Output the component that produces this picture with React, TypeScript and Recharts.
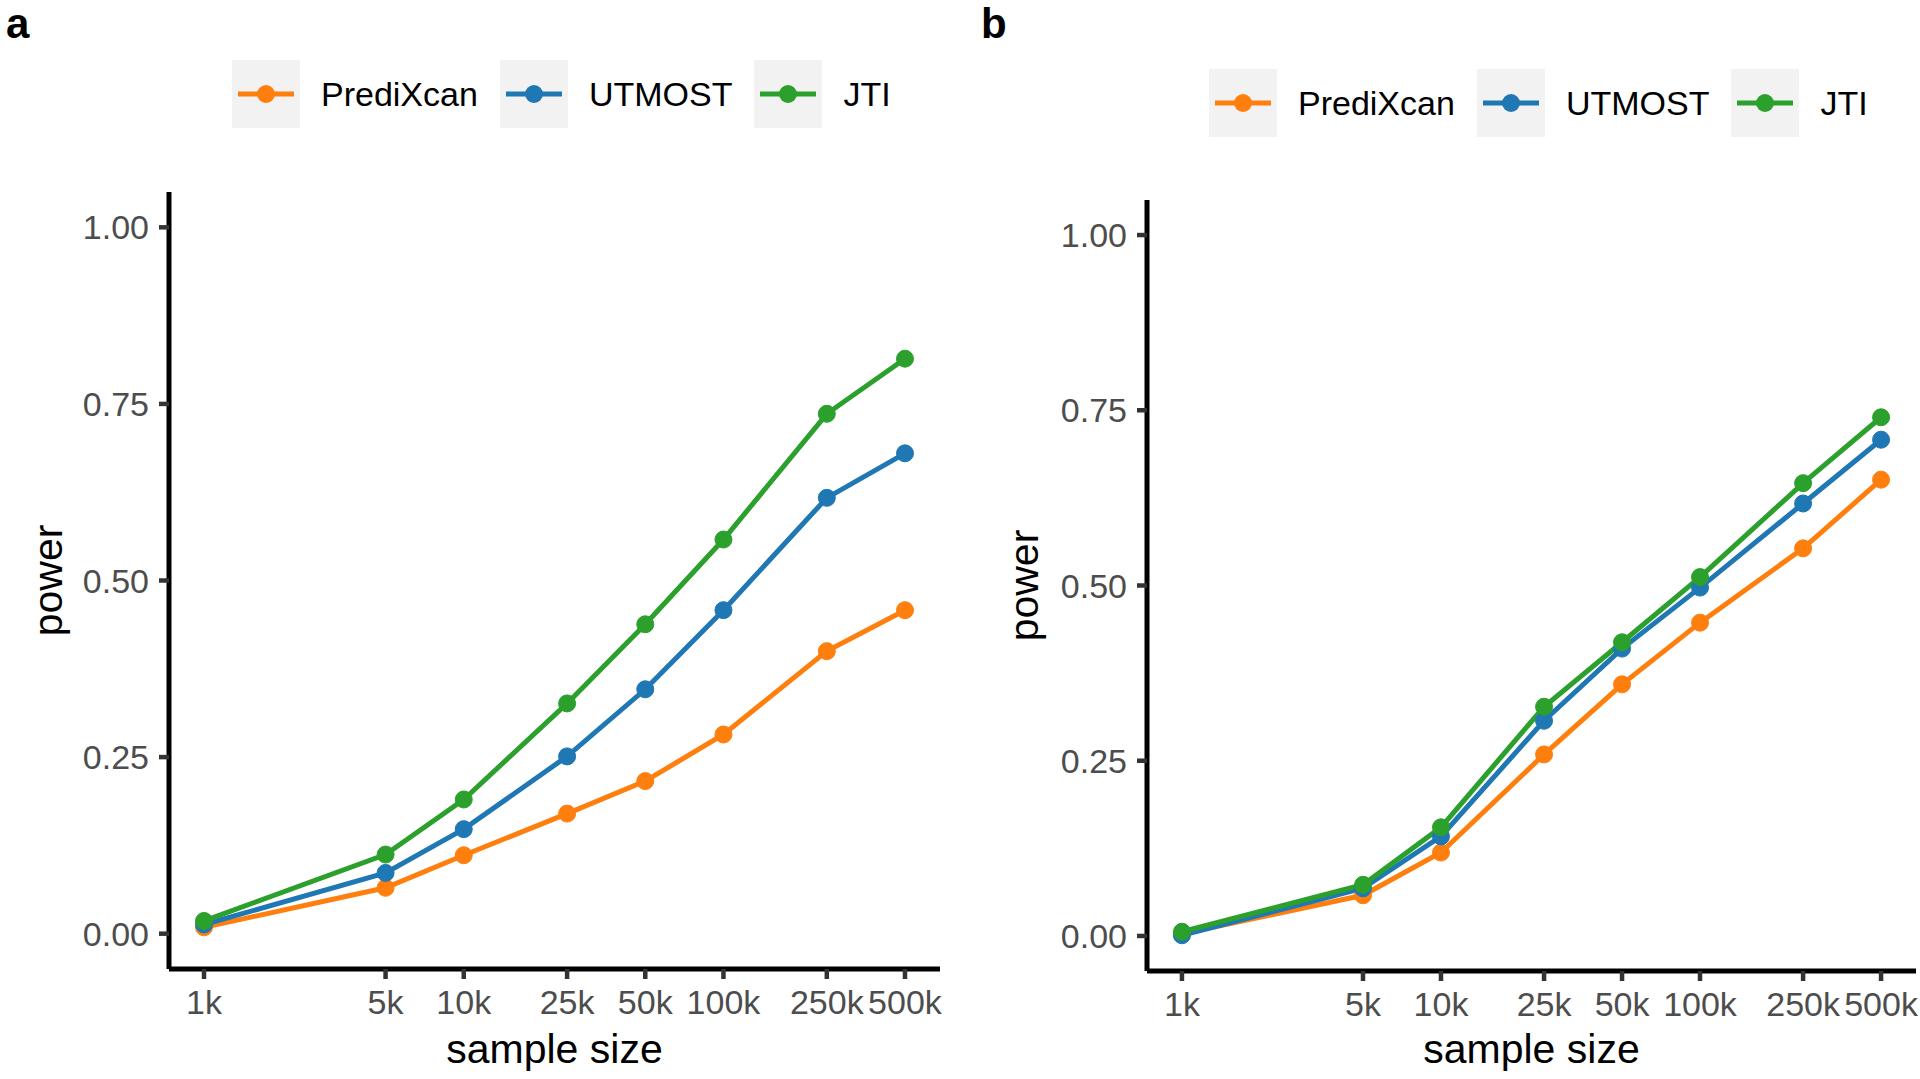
import { LineChart, Line, XAxis, YAxis } from "recharts";

const sampleSizes = [1000, 5000, 10000, 25000, 50000, 100000, 250000, 500000];
const sizeLabels = ["1k", "5k", "10k", "25k", "50k", "100k", "250k", "500k"];
const powerTicks = [0, 0.25, 0.5, 0.75, 1];

const methods = ["PrediXcan", "UTMOST", "JTI"];
const methodColors = ["#FF7F0E", "#1F77B4", "#2CA02C"];

// panel a
const predixcanA = [0.009, 0.065, 0.111, 0.17, 0.216, 0.282, 0.4, 0.458];
const utmostA = [0.013, 0.086, 0.148, 0.251, 0.346, 0.458, 0.617, 0.68];
const jtiA = [0.018, 0.112, 0.19, 0.326, 0.438, 0.558, 0.736, 0.814];

// panel b
const predixcanB = [0.003, 0.058, 0.119, 0.259, 0.359, 0.447, 0.553, 0.651];
const utmostB = [0.001, 0.068, 0.142, 0.307, 0.41, 0.497, 0.617, 0.708];
const jtiB = [0.006, 0.073, 0.155, 0.327, 0.419, 0.512, 0.646, 0.74];

const FONT = "'Liberation Sans', Arial, Helvetica, sans-serif";

function buildRows(a: number[], b: number[], c: number[]) {
  return sampleSizes.map((n, i) => ({ n, PrediXcan: a[i], UTMOST: b[i], JTI: c[i] }));
}

function LegendRow({ left, top }: { left: number; top: number }) {
  return (
    <div
      style={{
        position: "absolute",
        left,
        top,
        display: "flex",
        alignItems: "center",
        fontFamily: FONT,
        fontSize: 34,
        color: "#000",
      }}
    >
      {methods.map((m, i) => (
        <div key={m} style={{ display: "flex", alignItems: "center", marginRight: 22 }}>
          <svg width={68} height={68} style={{ display: "block" }}>
            <rect x={0} y={0} width={68} height={68} fill="#F2F2F2" />
            <line x1={6} x2={62} y1={34} y2={34} stroke={methodColors[i]} strokeWidth={5} />
            <circle cx={34} cy={34} r={9} fill={methodColors[i]} />
          </svg>
          <span style={{ marginLeft: 21, whiteSpace: "nowrap" }}>{m}</span>
        </div>
      ))}
    </div>
  );
}

interface PanelProps {
  rows: { n: number; PrediXcan: number; UTMOST: number; JTI: number }[];
  left: number;
  margin: { top: number; right: number; bottom: number; left: number };
  yAxisWidth: number;
  yTitleX: number;
  xTitleOffset: number;
}

function PowerPanel({ rows, left, margin, yAxisWidth, yTitleX, xTitleOffset }: PanelProps) {
  const tickStyle = { fill: "#4D4D4D", fontSize: 34, fontFamily: FONT };
  return (
    <div style={{ position: "absolute", left, top: 0 }}>
      <LineChart width={960} height={1079} data={rows} margin={margin}>
        <XAxis
          dataKey="n"
          type="number"
          scale="log"
          domain={[733, 682000]}
          allowDataOverflow
          ticks={sampleSizes}
          interval={0}
          tickFormatter={(v: number) => sizeLabels[sampleSizes.indexOf(v)] ?? ""}
          tick={tickStyle}
          tickSize={10}
          tickMargin={11}
          tickLine={{ stroke: "#333333", strokeWidth: 4.5 }}
          axisLine={{ stroke: "#000", strokeWidth: 5 }}
          height={100}
          label={{
            value: "sample size",
            position: "insideBottom",
            offset: xTitleOffset,
            style: { fill: "#000", fontSize: 41, fontFamily: FONT },
          }}
        />
        <YAxis
          type="number"
          domain={[-0.05, 1.05]}
          allowDataOverflow
          ticks={powerTicks}
          interval={0}
          tickFormatter={(v: number) => v.toFixed(2)}
          tick={tickStyle}
          tickSize={10}
          tickMargin={10}
          tickLine={{ stroke: "#333333", strokeWidth: 4.5 }}
          axisLine={{ stroke: "#000", strokeWidth: 5 }}
          width={yAxisWidth}
          label={{
            value: "power",
            angle: -90,
            position: "insideLeft",
            offset: yTitleX,
            style: { fill: "#000", fontSize: 41, fontFamily: FONT, textAnchor: "middle" },
          }}
        />
        {/* lines first, points on top, like geom_line + geom_point */}
        {methods.map((m, i) => (
          <Line
            key={m + "-line"}
            dataKey={m}
            type="linear"
            stroke={methodColors[i]}
            strokeWidth={5}
            dot={false}
            activeDot={false}
            isAnimationActive={false}
          />
        ))}
        {methods.map((m, i) => (
          <Line
            key={m + "-pts"}
            dataKey={m}
            type="linear"
            stroke="none"
            dot={{ r: 8.5, fill: methodColors[i], stroke: methodColors[i], strokeWidth: 1 }}
            activeDot={false}
            legendType="none"
            isAnimationActive={false}
          />
        ))}
      </LineChart>
    </div>
  );
}

export default function App() {
  const rowsA = buildRows(predixcanA, utmostA, jtiA);
  const rowsB = buildRows(predixcanB, utmostB, jtiB);
  const panelLabel = { position: "absolute" as const, top: 0, fontSize: 42, fontWeight: 700 };
  return (
    <div
      style={{
        position: "absolute",
        left: 0,
        top: 0,
        width: 1920,
        height: 1079,
        background: "#fff",
        overflow: "hidden",
        fontFamily: FONT,
      }}
    >
      <PowerPanel
        rows={rowsA}
        left={0}
        margin={{ top: 192, right: 20, bottom: 10, left: 0 }}
        yAxisWidth={169}
        yTitleX={47}
        xTitleOffset={6}
      />
      <PowerPanel
        rows={rowsB}
        left={960}
        margin={{ top: 200, right: 4, bottom: 8, left: 0 }}
        yAxisWidth={187}
        yTitleX={63}
        xTitleOffset={8}
      />
      <div style={{ ...panelLabel, left: 6 }}>a</div>
      <div style={{ ...panelLabel, left: 981 }}>b</div>
      <LegendRow left={232} top={60} />
      <LegendRow left={1209} top={69} />
    </div>
  );
}
